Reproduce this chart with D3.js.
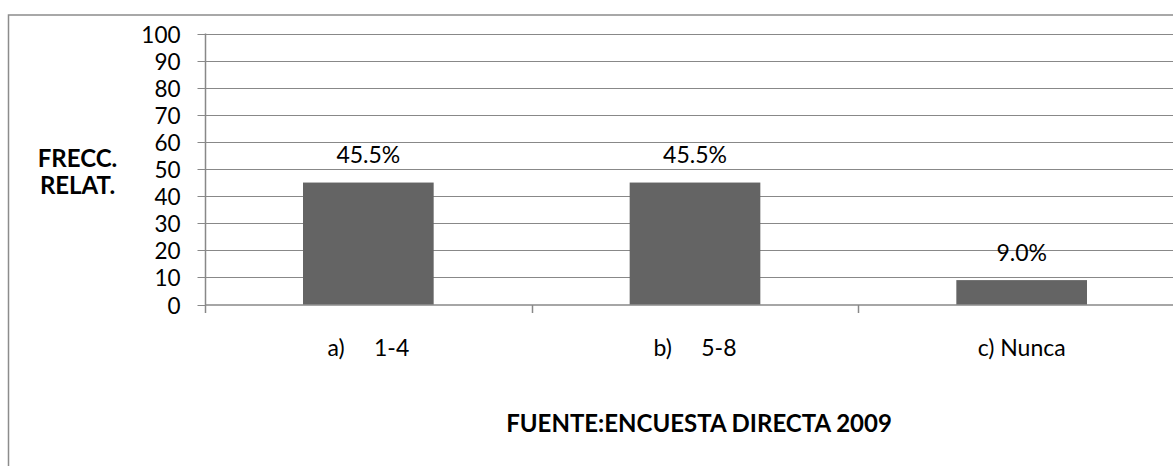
<!DOCTYPE html>
<html>
<head>
<meta charset="utf-8">
<script src="https://cdn.jsdelivr.net/npm/d3@7"></script>
<style>
  html, body { margin: 0; padding: 0; background: #fff; }
  svg { display: block; }
  text { font-family: Lato, "Open Sans", sans-serif; fill: #000; }
</style>
</head>
<body>
<svg id="chart" width="1173" height="466"></svg>
<script>
// ---- data ----
const categories = ["a)     1-4", "b)     5-8", "c) Nunca"];
const values = [45, 45, 9];
const valueLabels = ["45.5%", "45.5%", "9.0%"];
const yTicks = [0, 10, 20, 30, 40, 50, 60, 70, 80, 90, 100];
const yTitle = ["FRECC.", "RELAT."];
const xTitle = "FUENTE:ENCUESTA DIRECTA 2009";

// ---- layout ----
const svg = d3.select("#chart");
const plot = { left: 205, right: 1185, top: 33.5, bottom: 304.5 };
const gridColor = "#888888";
const barColor = "#646464";

// outer chart border (extends beyond the visible frame)
svg.append("rect")
  .attr("x", 8.5).attr("y", 15)
  .attr("width", 1300).attr("height", 600)
  .attr("fill", "none").attr("stroke", "#8c8c8c").attr("stroke-width", 1.5);

const y = d3.scaleLinear().domain([0, 100]).range([plot.bottom, plot.top]);
const x = d3.scaleBand().domain(categories).range([plot.left, plot.right]).padding(0);

// gridlines
svg.append("g").selectAll("line").data(yTicks.filter(d => d > 0)).join("line")
  .attr("x1", plot.left).attr("x2", plot.right)
  .attr("y1", d => Math.round(y(d)) + 0.5).attr("y2", d => Math.round(y(d)) + 0.5)
  .attr("stroke", gridColor).attr("stroke-width", 1);

// y axis
const yAxis = d3.axisLeft(y).tickValues(yTicks).tickSize(8).tickPadding(17).tickFormat(d3.format("d"));
const gy = svg.append("g").attr("transform", `translate(${plot.left + 0.5},0)`).call(yAxis);
gy.select(".domain").remove();
gy.selectAll(".tick line").attr("stroke", gridColor).attr("stroke-width", 1);
gy.selectAll(".tick").attr("transform", d => `translate(0,${Math.round(y(d)) + 0.5})`);
gy.selectAll(".tick text")
  .style("font-family", 'Lato, sans-serif').style("font-size", "22.5px").attr("fill", "#000")
  .attr("dy", "0.36em");
gy.append("line").attr("x1", 0).attr("x2", 0)
  .attr("y1", plot.top).attr("y2", plot.bottom + 0.5)
  .attr("stroke", gridColor).attr("stroke-width", 1.5);

// x axis
const gx = svg.append("g").attr("transform", `translate(0,${plot.bottom + 0.5})`);
gx.append("line").attr("x1", plot.left).attr("x2", plot.right)
  .attr("stroke", gridColor).attr("stroke-width", 1.5);
const boundaries = categories.map(c => x(c)).concat([plot.right]);
gx.selectAll("line.tk").data(boundaries).join("line").attr("class", "tk")
  .attr("x1", d => Math.round(d) + 0.5).attr("x2", d => Math.round(d) + 0.5)
  .attr("y1", 0).attr("y2", 8)
  .attr("stroke", gridColor).attr("stroke-width", 1.5);
gx.selectAll("text").data(categories).join("text")
  .attr("x", d => x(d) + x.bandwidth() / 2)
  .attr("y", 50.5)
  .attr("text-anchor", "middle")
  .style("white-space", "pre")
  .attr("xml:space", "preserve")
  .style("font-size", "23px")
  .text(d => d);

// bars
const bw = x.bandwidth() * 0.4;
svg.append("g").selectAll("rect").data(values).join("rect")
  .attr("x", (d, i) => x(categories[i]) + (x.bandwidth() - bw) / 2)
  .attr("width", bw)
  .attr("y", d => y(d))
  .attr("height", d => y(0) - y(d))
  .attr("fill", barColor);

// value labels
svg.append("g").selectAll("text").data(values).join("text")
  .attr("x", (d, i) => x(categories[i]) + x.bandwidth() / 2)
  .attr("y", d => y(d) - 19.5)
  .attr("text-anchor", "middle")
  .style("font-size", "23px")
  .text((d, i) => valueLabels[i]);

// y title (one text, two lines)
const yt = svg.append("text")
  .attr("text-anchor", "middle")
  .style("font-size", "24px").style("font-weight", "bold");
yt.selectAll("tspan").data(yTitle).join("tspan")
  .attr("x", 77.5)
  .attr("y", (d, i) => 166.5 + i * 27)
  .text(d => d);

// x title
svg.append("text")
  .attr("x", 699).attr("y", 431.5)
  .attr("text-anchor", "middle")
  .style("font-size", "24px").style("font-weight", "bold")
  .text(xTitle);
</script>
</body>
</html>
